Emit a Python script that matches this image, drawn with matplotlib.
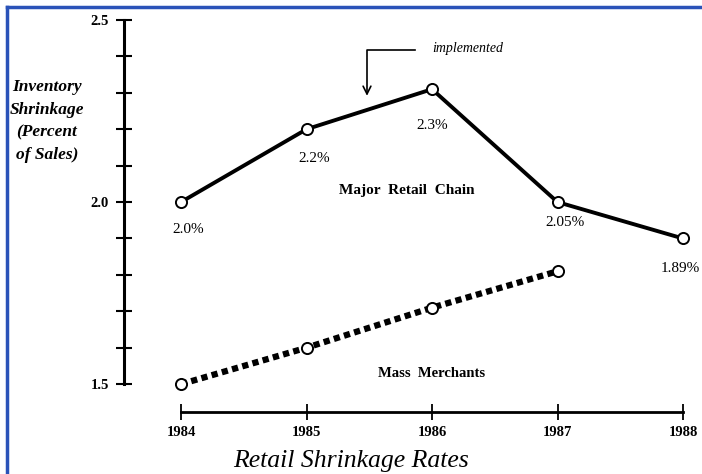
import matplotlib
matplotlib.use("Agg")
import matplotlib.pyplot as plt
from matplotlib.ticker import MultipleLocator
from matplotlib.lines import Line2D

years = [1984, 1985, 1986, 1987, 1988]
major_chain = [2.0, 2.2, 2.31, 2.0, 1.9]
major_labels = ["2.0%", "2.2%", "2.3%", "2.05%", "1.89%"]
mass_years = [1984, 1985, 1986, 1987]
mass_merchants = [1.5, 1.6, 1.71, 1.81]
year_labels = ["1984", "1985", "1986", "1987", "1988"]

W, H = 702, 474
fig = plt.figure(figsize=(W / 100, H / 100), dpi=100)
fig.patch.set_facecolor("white")

serif = ["Liberation Serif", "DejaVu Serif"]

# axes placement in pixels
left_px, right_px = 124, 683
top_px, bot_px = 20, 412
ax = fig.add_axes([left_px / W, 1 - bot_px / H, (right_px - left_px) / W, (bot_px - top_px) / H])
ax.set_facecolor("none")

px_per_year = (683 - 181) / 4.0
xmin = 1984 - (181 - left_px) / px_per_year
px_per_unit = 366.0
ymax = 2.0 + (201 - top_px) / px_per_unit
ymin = 2.0 - (bot_px - 201) / px_per_unit
ax.set_xlim(xmin, 1988)
ax.set_ylim(ymin, ymax)

for s in ["top", "right"]:
    ax.spines[s].set_visible(False)
ax.spines["left"].set_bounds(1.5, 2.5)
ax.spines["left"].set_linewidth(2.2)
ax.spines["bottom"].set_bounds(1984, 1988)
ax.spines["bottom"].set_linewidth(2.0)

ax.set_yticks([1.5, 2.0, 2.5])
ax.set_yticklabels(["1.5", "2.0", "2.5"])
ax.yaxis.set_minor_locator(MultipleLocator(0.1))
ax.tick_params(axis="y", which="both", direction="inout", length=12, width=1.5, pad=5)
ax.set_xticks(years)
ax.set_xticklabels(year_labels)
ax.tick_params(axis="x", direction="inout", length=12, width=1.3, pad=4)
for lab in ax.get_xticklabels() + ax.get_yticklabels():
    lab.set_fontfamily(serif)
    lab.set_fontweight("bold")
    lab.set_fontsize(10.5)

# Major retail chain
ax.plot(years, major_chain, color="black", lw=2.8, marker="o", ms=8,
        mfc="white", mec="black", mew=1.4, clip_on=False, zorder=3)
# Mass merchants
ax.plot(mass_years, mass_merchants, color="black", lw=4.5, ls=(0, (1.0, 0.7)),
        marker="o", ms=8, mfc="white", mec="black", mew=1.4, clip_on=False, zorder=3)

offsets = [(0.06, -0.075), (0.06, -0.08), (0.0, -0.1), (0.06, -0.055)]
for x, y, t, (dx, dy) in zip(years, major_chain, major_labels, offsets):
    ax.text(x + dx, y + dy, t, ha="center", va="center", fontsize=11,
            fontfamily=serif, clip_on=False)
# last label sits against the right edge
fig.text(700 / W, 1 - 269 / H, major_labels[-1], ha="right", va="center",
         fontsize=11, fontfamily=serif)

ax.text(1985.8, 2.032, "Major  Retail  Chain", ha="center", va="center",
        fontsize=11, fontweight="bold", fontfamily=serif)
ax.text(1986.0, 1.53, "Mass  Merchants", ha="center", va="center",
        fontsize=10.5, fontweight="bold", fontfamily=serif)

# implemented annotation
yv = 2.0 + (201 - 48) / px_per_unit
yarr = 2.0 + (201 - 97) / px_per_unit
x1 = 1984 + (415 - 181) / px_per_year
x0 = 1984 + (367 - 181) / px_per_year
ax.plot([x1, x0, x0], [yv, yv, yv - 0.02], color="black", lw=1.2)
ax.annotate("", xy=(x0, yarr), xytext=(x0, yv - 0.015),
            arrowprops=dict(arrowstyle="->", lw=1.2, color="black", mutation_scale=14))
ax.text(1984 + (432 - 181) / px_per_year, yv + 0.005, "implemented", ha="left", va="center",
        fontsize=10, fontstyle="italic", fontfamily=serif)

# y label
fig.text(47 / W, 1 - 121 / H, "Inventory\nShrinkage\n(Percent\nof Sales)", ha="center",
         va="center", fontsize=12.5, fontstyle="italic", fontweight="bold",
         fontfamily=serif, linespacing=1.55)

# title
fig.text(351 / W, 1 - 461 / H, "Retail Shrinkage Rates", ha="center", va="center",
         fontsize=18.5, fontstyle="italic", fontfamily=serif)

# blue border
fig.add_artist(Line2D([6.5 / W, 6.5 / W], [0, 1 - 7 / H], transform=fig.transFigure,
                      color="#2a52b8", lw=2.5))
fig.add_artist(Line2D([6.5 / W, 1], [1 - 7 / H, 1 - 7 / H], transform=fig.transFigure,
                      color="#2a52b8", lw=2.5))

fig.savefig("out.png", dpi=100, facecolor="white")
